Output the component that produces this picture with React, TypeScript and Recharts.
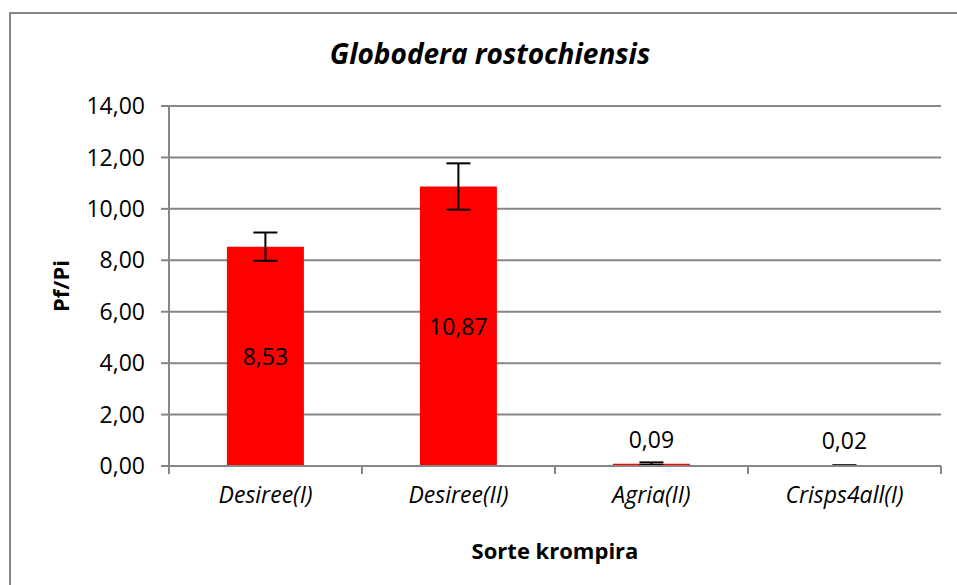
import React from "react";
import {
  BarChart,
  Bar,
  XAxis,
  YAxis,
  CartesianGrid,
  ErrorBar,
  LabelList,
} from "recharts";

const categories = ["Desiree(I)", "Desiree(II)", "Agria(II)", "Crisps4all(I)"];
const pfPi = [8.53, 10.87, 0.09, 0.02];
const errors = [0.55, 0.9, 0.05, 0.01];
const yTicks = [0, 2, 4, 6, 8, 10, 12, 14];

const data = categories.map((name, i) => ({
  name,
  value: pfPi[i],
  err: errors[i],
}));

const FONT = "'Open Sans', 'Noto Sans', sans-serif";
const GREY = "#868686";
const fmt = (v: number) => v.toFixed(2).replace(".", ",");

// big bars get the value in the middle, tiny ones above the bar
function ValueLabel(props: any) {
  const { x, y, width, height, value } = props;
  const big = value > 1;
  return (
    <text
      x={x + width / 2}
      y={big ? y + height / 2 : y - 25}
      textAnchor="middle"
      dominantBaseline="central"
      fontSize={23}
      fontFamily={FONT}
      fill="#000"
    >
      {fmt(value)}
    </text>
  );
}

// category label at band centre, tick marks at band edges (Excel style)
function CatTick(props: any) {
  const { x, y, payload, index, width, visibleTicksCount } = props;
  const half = width / visibleTicksCount / 2;
  const top = y - 8;
  return (
    <g>
      <line x1={x - half} y1={top} x2={x - half} y2={top + 8} stroke={GREY} strokeWidth={2} />
      {index === visibleTicksCount - 1 && (
        <line x1={x + half} y1={top} x2={x + half} y2={top + 8} stroke={GREY} strokeWidth={2} />
      )}
      <text
        x={x}
        y={y + 29}
        textAnchor="middle"
        fontSize={23}
        fontStyle="italic"
        fontFamily={FONT}
        fill="#000"
      >
        {payload.value}
      </text>
    </g>
  );
}

export default function App() {
  return (
    <div
      style={{
        position: "absolute",
        left: 0,
        top: 0,
        width: 957,
        height: 585,
        overflow: "hidden",
        background: "#fff",
        fontFamily: FONT,
      }}
    >
      <div
        style={{
          position: "absolute",
          left: 9,
          top: 12,
          width: 1000,
          height: 700,
          border: `2px solid ${GREY}`,
        }}
      />
      <div
        style={{
          position: "absolute",
          left: 0,
          top: 34,
          width: 980,
          textAlign: "center",
          fontSize: 28,
          fontWeight: 700,
          fontStyle: "italic",
        }}
      >
        Globodera rostochiensis
      </div>
      <div
        style={{
          position: "absolute",
          left: 169,
          width: 772,
          top: 535,
          textAlign: "center",
          fontSize: 22,
          fontWeight: 700,
        }}
      >
        Sorte krompira
      </div>
      <div
        style={{
          position: "absolute",
          left: 60,
          top: 286,
          transform: "translate(-50%, -50%) rotate(-90deg)",
          fontSize: 22,
          fontWeight: 700,
          whiteSpace: "nowrap",
        }}
      >
        Pf/Pi
      </div>
      <div style={{ position: "absolute", left: 0, top: 0 }}>
        <BarChart
          width={957}
          height={585}
          data={data}
          margin={{ top: 106, right: 16, bottom: 79, left: 89 }}
          barCategoryGap="30%"
        >
          <CartesianGrid vertical={false} stroke={GREY} strokeWidth={2} />
          <XAxis
            dataKey="name"
            axisLine={{ stroke: GREY, strokeWidth: 2 }}
            tickLine={false}
            tick={<CatTick />}
            height={40}
            interval={0}
          />
          <YAxis
            domain={[0, 14]}
            ticks={yTicks}
            tickFormatter={fmt}
            width={80}
            axisLine={{ stroke: GREY, strokeWidth: 2 }}
            tickLine={{ stroke: GREY, strokeWidth: 2 }}
            tickSize={8}
            tickMargin={16}
            tick={{ fontSize: 23, fill: "#000", fontFamily: FONT }}
          />
          <Bar dataKey="value" fill="#FF0000" isAnimationActive={false}>
            <ErrorBar dataKey="err" width={12} stroke="#000" strokeWidth={2} />
            <LabelList dataKey="value" content={<ValueLabel />} />
          </Bar>
        </BarChart>
      </div>
    </div>
  );
}
